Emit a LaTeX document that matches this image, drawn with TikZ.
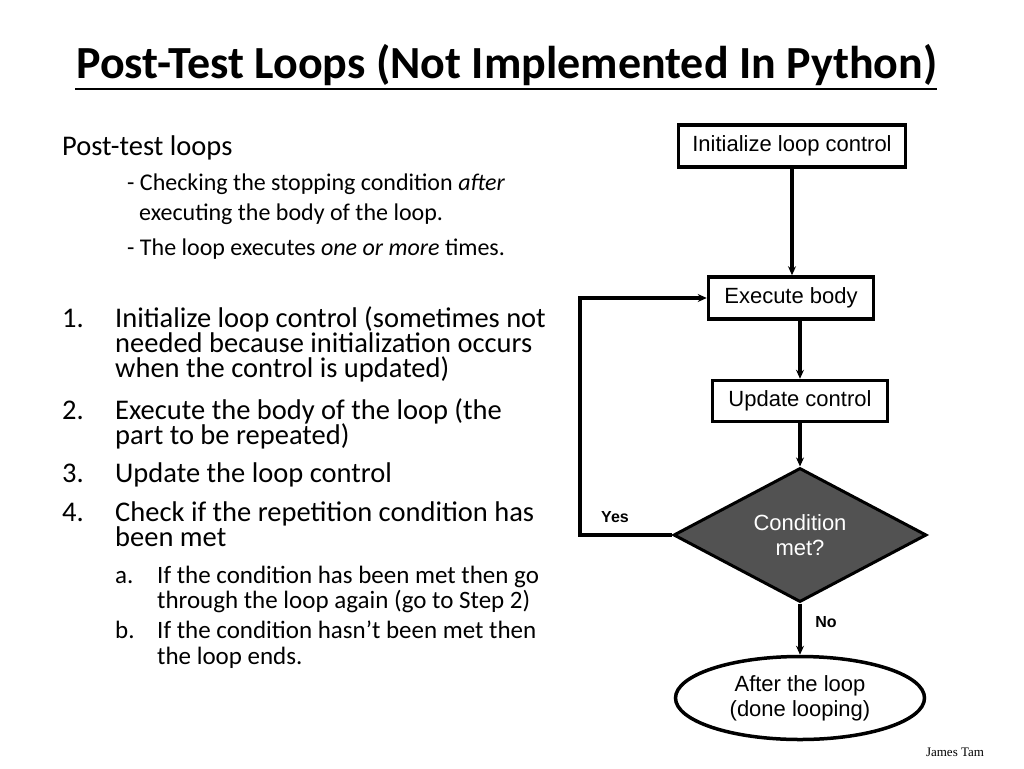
\documentclass[tikz,border=0pt]{standalone}
\usepackage{fontspec}
\setmainfont{Carlito}
\newfontfamily\arialfont{Liberation Sans}
\newfontfamily\timesfont{Liberation Serif}
\usetikzlibrary{arrows.meta}
\usetikzlibrary{positioning}
\usetikzlibrary{shapes.geometric}
\begin{document}
\begin{tikzpicture}
  [
    x=1pt,y=-1pt,
    stepbox/.style={draw,line width=3.5pt,font=\arialfont\fontsize{22}{25}\selectfont,inner sep=0pt},
    flow/.style={line width=3.5pt,-{Stealth[length=9pt,width=8pt]}},
    txt/.style={anchor=base west,inner sep=0pt,font=\fontsize{28.5}{30}\selectfont},
    sub/.style={anchor=base west,inner sep=0pt,font=\fontsize{24}{28}\selectfont},
    subl/.style={anchor=base west,inner sep=0pt,font=\fontsize{25}{27}\selectfont},
  ]
    \useasboundingbox (0,0) rectangle (1024,768);
    % title
    \node [font=\bfseries\fontsize{46}{52}\selectfont,inner sep=0pt] (title) at (507,65) {Post-Test Loops (Not Implemented In Python)};
    \draw [line width=2pt] (75,89) -- (937,89);
    % bullets
    \node [txt] (post) at (62,155) {Post-test loops};
    \node [sub] (s1) at (127,190) {- Checking the stopping condition \textit{after}};
    \node [sub] (s1b) at (139,220) {executing the body of the loop.};
    \node [sub] (s2) at (127,255) {- The loop executes \textit{one or more} times.};
    % numbered list
    \foreach \n/\y in {1./327,2./419,3./482,4./521}
      \node [txt] at (62,\y) {\n};
    \foreach \y/\t in {327/Initialize loop control (sometimes not,
                       352/needed because initialization occurs,
                       377/when the control is updated),
                       419/Execute the body of the loop (the,
                       444/part to be repeated),
                       482/Update the loop control,
                       521/Check if the repetition condition has,
                       546/been met}
      \node [txt] at (115,\y) {\t};
    \foreach \n/\y in {a./583,b./638}
      \node [subl] at (115,\y) {\n};
    \foreach \y/\t in {583/If the condition has been met then go,
                       608/through the loop again (go to Step 2),
                       638/If the condition hasn't been met then,
                       664/the loop ends.}
      \node [subl] at (157,\y) {\t};
    % flowchart
    \node [stepbox,minimum width=227pt,minimum height=42pt] (init) at (792,146) {Initialize loop control};
    \node [stepbox,minimum width=165pt,minimum height=42pt] (exec) at (791,298) {Execute body};
    \node [stepbox,minimum width=175pt,minimum height=41pt] (update) at (800,401) {Update control};
    \node [stepbox,diamond,fill=black!68,text=white,minimum width=253pt,minimum height=132pt,align=center,line width=3pt] (cond) at (800,535) {Condition\\met?};
    \node [stepbox,ellipse,minimum width=249pt,minimum height=83pt,align=center] (after) at (800,698) {After the loop\\(done looping)};
    \coordinate (loopbot) at (580,535);
    \coordinate (looptop) at (580,298);
    \draw [flow] (init.south) -- (init.south |- exec.north);
    \draw [flow] (exec.south -| update.north) -- (update.north);
    \draw [flow] (update.south) -- (cond.north);
    \draw [flow] (cond.west) -- (loopbot) -- (looptop) -- (exec.west);
    \draw [flow] (cond.south) -- (after.north);
    % labels
    \node [font=\arialfont\bfseries\fontsize{16}{18}\selectfont] (yes) at (615,517) {Yes};
    \node [font=\arialfont\bfseries\fontsize{16}{18}\selectfont] (no) at (826,622) {No};
    \node [font=\timesfont\fontsize{13}{15}\selectfont] (author) at (955,752) {James Tam};
\end{tikzpicture}
\end{document}
